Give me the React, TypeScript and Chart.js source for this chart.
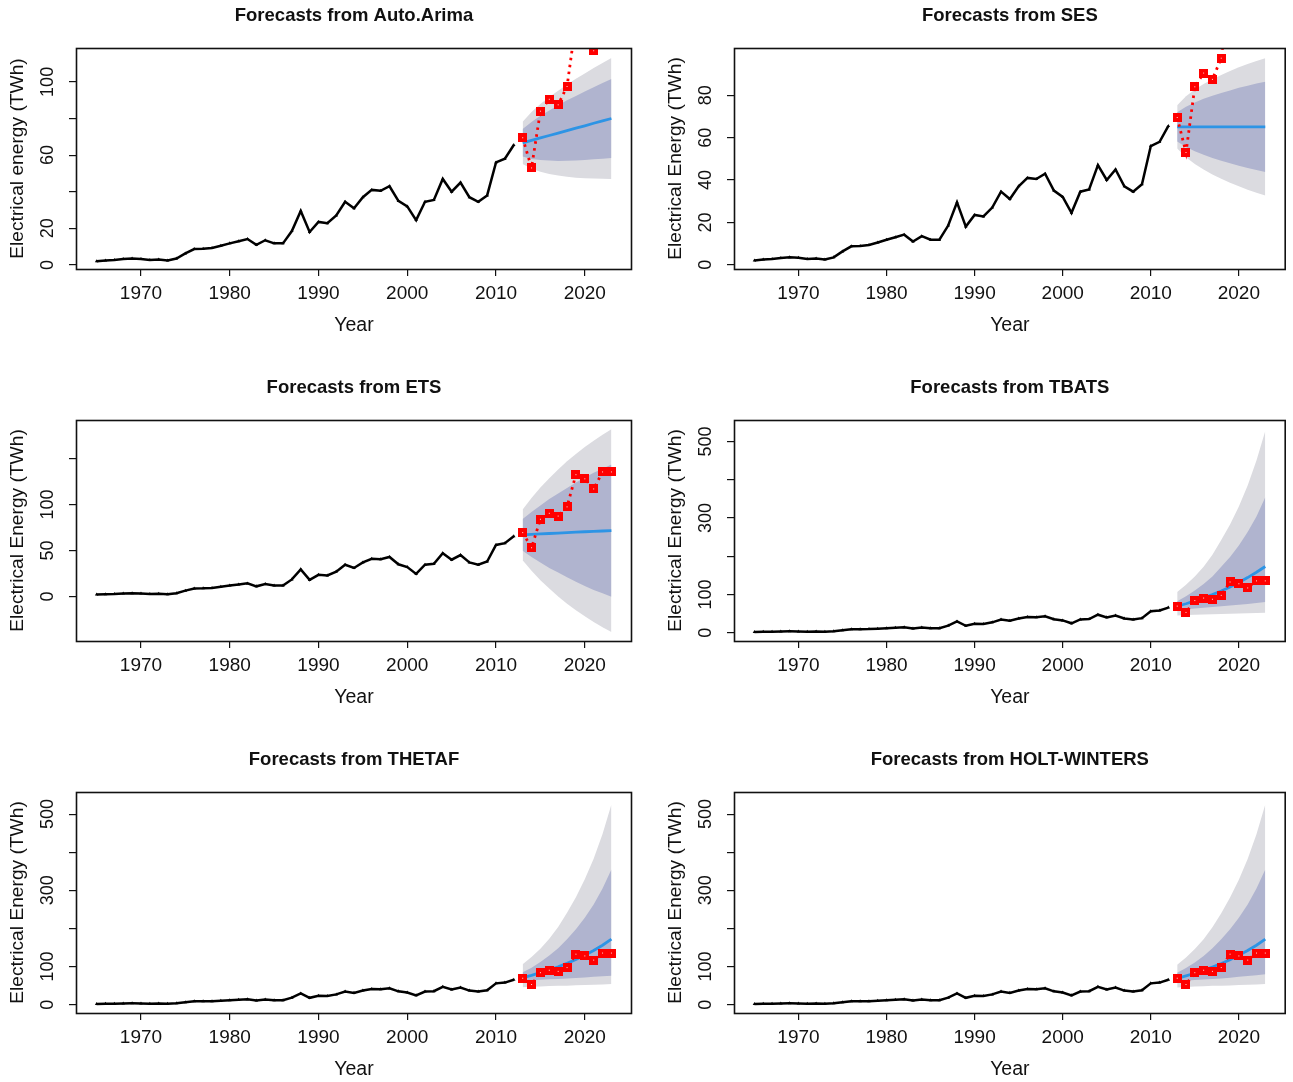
import React, { useEffect, useRef } from "react";
import { Chart, registerables } from "chart.js";

Chart.register(...registerables);

// ---------------- data ----------------
const histYears = [
  1965, 1966, 1967, 1968, 1969, 1970, 1971, 1972, 1973, 1974,
  1975, 1976, 1977, 1978, 1979, 1980, 1981, 1982, 1983, 1984,
  1985, 1986, 1987, 1988, 1989, 1990, 1991, 1992, 1993, 1994,
  1995, 1996, 1997, 1998, 1999, 2000, 2001, 2002, 2003, 2004,
  2005, 2006, 2007, 2008, 2009, 2010, 2011, 2012,
];
const histValues = [
  2, 2.5, 2.7, 3.2, 3.5, 3.3, 2.7, 3, 2.5, 3.5,
  6.3, 8.7, 8.8, 9.3, 10.5, 11.8, 13, 14.2, 11, 13.5,
  11.8, 11.8, 18.5, 29.5, 18, 23.5, 22.8, 27, 34.5, 31,
  37, 41, 40.5, 43, 35, 32, 24.5, 34.5, 35.5, 47,
  40, 45, 37, 34.5, 38, 56, 58, 65.5,
];
const fcYears = [2013, 2014, 2015, 2016, 2017, 2018, 2019, 2020, 2021, 2022, 2023];
const actualValues = [69.5, 53, 84, 90.5, 87.5, 97.5, 132.5, 128, 117, 135.5, 135.5];

const arimaMean = [66.7, 68.0, 69.4, 70.7, 72.0, 73.4, 74.7, 76.0, 77.4, 78.7, 80.0];
const arimaHi80 = [74.2, 78.1, 81.5, 84.4, 87.2, 89.9, 92.3, 94.7, 97.1, 99.4, 101.6];
const arimaLo80 = [59.2, 57.9, 57.3, 57.0, 56.8, 56.9, 57.1, 57.3, 57.7, 58.0, 58.4];
const arimaHi95 = [78.2, 83.5, 87.9, 91.7, 95.2, 98.6, 101.7, 104.6, 107.6, 110.3, 113.0];
const arimaLo95 = [55.2, 52.5, 50.9, 49.7, 48.8, 48.2, 47.7, 47.4, 47.2, 47.1, 47.0];

const sesMean = [65.1, 65.1, 65.1, 65.1, 65.1, 65.1, 65.1, 65.1, 65.1, 65.1, 65.1];
const sesHi80 = [72.0, 74.6, 76.6, 78.3, 79.8, 81.1, 82.3, 83.5, 84.5, 85.5, 86.4];
const sesLo80 = [58.2, 55.6, 53.6, 51.9, 50.4, 49.1, 47.9, 46.7, 45.7, 44.7, 43.8];
const sesHi95 = [75.3, 79.5, 82.7, 85.3, 87.6, 89.6, 91.5, 93.2, 94.8, 96.2, 97.5];
const sesLo95 = [54.9, 50.7, 47.5, 44.9, 42.6, 40.6, 38.7, 37.0, 35.4, 34.0, 32.7];

const etsMean = [67.0, 67.5, 68.0, 68.5, 69.0, 69.5, 70.0, 70.4, 70.8, 71.2, 71.6];
const etsHi80 = [84.4, 92, 99, 106, 112, 118, 124, 129.5, 134.5, 139, 143.5];
const etsLo80 = [49.6, 43, 37, 31, 26, 21, 16, 11.3, 7.1, 3.4, -0.3];
const etsHi95 = [94.6, 107, 118.5, 128.5, 138, 147, 155, 162.5, 169.5, 176, 182];
const etsLo95 = [39.4, 28, 17.5, 8.5, 0, -8, -15, -21.7, -27.9, -33.6, -38.8];

const tbatsMean = [69, 75.5, 83, 91, 99.5, 109, 119.5, 131, 144, 158, 173];
const tbatsHi80 = [82, 95, 110, 127, 147, 172, 198, 228, 263, 304, 354];
const tbatsLo80 = [60, 61.5, 63, 65, 67, 69, 71, 73, 75, 77.5, 80];
const tbatsHi95 = [106, 125, 147, 172, 204, 242, 283, 330, 385, 450, 527];
const tbatsLo95 = [45, 46, 47, 47.5, 48, 48.5, 49.5, 50, 50.5, 51.5, 52];

const thetaMean = [71, 77, 84, 91.5, 99.5, 108.5, 118.5, 129.5, 142, 156, 172];
const thetaHi80 = [85, 97, 112, 129, 148, 172, 198, 228, 263, 305, 355];
const thetaLo80 = [63, 64, 65.5, 66.5, 67.5, 69, 70, 71.5, 73, 74.5, 76];
const thetaHi95 = [106, 125, 147, 173, 204, 241, 282, 329, 383, 448, 525];
const thetaLo95 = [45.5, 47, 48, 49, 49.5, 50, 51, 51.5, 52.5, 53, 54];

const hwMean = [69, 75.5, 82.5, 90.5, 99, 108, 118, 129.5, 142, 156, 172];
const hwHi80 = [84, 96, 111, 128, 148, 172, 198, 228, 263, 305, 355];
const hwLo80 = [61, 63, 64.5, 66, 67.5, 69, 71, 73, 75, 77.5, 80];
const hwHi95 = [105, 124, 146, 172, 203, 240, 281, 328, 382, 447, 525];
const hwLo95 = [45, 46.5, 47.5, 48.5, 49.5, 50, 50.5, 51.5, 52, 53, 54];

const xTicks = [1970, 1980, 1990, 2000, 2010, 2020];
const arimaYTicks = [0, 20, 40, 60, 80, 100];
const arimaYLabels = [0, 20, 60, 100];
const sesYTicks = [0, 20, 40, 60, 80];
const sesYLabels = [0, 20, 40, 60, 80];
const etsYTicks = [0, 50, 100, 150];
const etsYLabels = [0, 50, 100];
const bigYTicks = [0, 100, 200, 300, 400, 500];
const bigYLabels = [0, 100, 300, 500];

// ---------------- styling / layout ----------------
const FONT = '"Liberation Sans", Arial, Helvetica, sans-serif';
const X_MIN = 1962.68;
const X_MAX = 2025.32;
const PLOT_TOP = 48;
const PLOT_BOTTOM = 269;
const PLOT_RIGHT = 632;

type PanelDef = {
  title: string;
  ylabel: string;
  yMin: number;
  yMax: number;
  yTicks: number[];
  yLabels: number[];
  mean: number[];
  hi80: number[];
  lo80: number[];
  hi95: number[];
  lo95: number[];
};

const panels: PanelDef[] = [
  { title: "Forecasts from Auto.Arima", ylabel: "Electrical energy (TWh)", yMin: -2.2, yMax: 118.5, yTicks: arimaYTicks, yLabels: arimaYLabels, mean: arimaMean, hi80: arimaHi80, lo80: arimaLo80, hi95: arimaHi95, lo95: arimaLo95 },
  { title: "Forecasts from SES", ylabel: "Electrical Energy (TWh)", yMin: -2.0, yMax: 102.3, yTicks: sesYTicks, yLabels: sesYLabels, mean: sesMean, hi80: sesHi80, lo80: sesLo80, hi95: sesHi95, lo95: sesLo95 },
  { title: "Forecasts from ETS", ylabel: "Electrical Energy (TWh)", yMin: -48.5, yMax: 192, yTicks: etsYTicks, yLabels: etsYLabels, mean: etsMean, hi80: etsHi80, lo80: etsLo80, hi95: etsHi95, lo95: etsLo95 },
  { title: "Forecasts from TBATS", ylabel: "Electrical Energy (TWh)", yMin: -21.8, yMax: 556, yTicks: bigYTicks, yLabels: bigYLabels, mean: tbatsMean, hi80: tbatsHi80, lo80: tbatsLo80, hi95: tbatsHi95, lo95: tbatsLo95 },
  { title: "Forecasts from THETAF", ylabel: "Electrical Energy (TWh)", yMin: -21.8, yMax: 558, yTicks: bigYTicks, yLabels: bigYLabels, mean: thetaMean, hi80: thetaHi80, lo80: thetaLo80, hi95: thetaHi95, lo95: thetaLo95 },
  { title: "Forecasts from HOLT-WINTERS", ylabel: "Electrical Energy (TWh)", yMin: -21.8, yMax: 558, yTicks: bigYTicks, yLabels: bigYLabels, mean: hwMean, hi80: hwHi80, lo80: hwLo80, hi95: hwHi95, lo95: hwLo95 },
];

const decorPlugin = {
  id: "rdecor",
  afterDraw(chart: any, _args: any, opts: any) {
    const { ctx, chartArea: a, scales } = chart;
    const xs = scales.x;
    const ys = scales.y;
    ctx.save();
    // box
    ctx.strokeStyle = "#111";
    ctx.lineWidth = 1.6;
    ctx.strokeRect(a.left + 0.5, a.top + 0.5, a.right - a.left - 1, a.bottom - a.top);
    ctx.fillStyle = "#111";
    ctx.textAlign = "center";
    ctx.textBaseline = "middle";
    // title
    ctx.font = `bold 18.5px ${FONT}`;
    ctx.fillText(opts.title, (a.left + a.right) / 2, a.top - 32);
    // x tick labels
    ctx.font = `19px ${FONT}`;
    for (const v of xTicks) {
      ctx.fillText(String(v), xs.getPixelForValue(v), a.bottom + 25);
    }
    // x title
    ctx.font = `19.5px ${FONT}`;
    ctx.fillText("Year", (a.left + a.right) / 2, a.bottom + 57);
    // y tick labels (rotated, R style)
    ctx.font = `18px ${FONT}`;
    for (const v of opts.yLabels) {
      ctx.save();
      ctx.translate(a.left - 28, ys.getPixelForValue(v));
      ctx.rotate(-Math.PI / 2);
      ctx.fillText(String(v), 0, 0);
      ctx.restore();
    }
    // y title
    ctx.font = `19.2px ${FONT}`;
    ctx.save();
    ctx.translate(18, (a.top + a.bottom) / 2);
    ctx.rotate(-Math.PI / 2);
    ctx.fillText(opts.ylabel, 0, 0);
    ctx.restore();
    ctx.restore();
  },
};

function makeMarker(): HTMLCanvasElement {
  const c = document.createElement("canvas");
  c.width = 9;
  c.height = 9;
  const g = c.getContext("2d")!;
  g.fillStyle = "#FF0000";
  g.fillRect(0, 0, 9, 9);
  g.fillStyle = "rgba(255,255,255,0.85)";
  g.fillRect(4, 4, 1, 1);
  return c;
}

function pts(xv: number[], yv: number[]) {
  return xv.map((x, i) => ({ x, y: yv[i] }));
}

function buildConfig(p: PanelDef, W: number, H: number): any {
  const marker = makeMarker();
  const noLine = "rgba(0,0,0,0)";
  return {
    type: "line",
    data: {
      datasets: [
        {
          data: pts(fcYears, actualValues),
          borderColor: "#FF0000",
          borderWidth: 2.8,
          borderDash: [2.5, 4.5],
          pointStyle: marker,
          pointRadius: 4.5,
          fill: false,
          clip: 0,
        },
        {
          data: pts(fcYears, p.mean),
          borderColor: "#2D94E5",
          borderWidth: 2.8,
          pointRadius: 0,
          fill: false,
          clip: 0,
        },
        {
          data: pts(histYears, histValues),
          borderColor: "#000000",
          borderWidth: 2.5,
          pointRadius: 2,
          pointStyle: "triangle",
          pointBackgroundColor: "#000000",
          pointBorderWidth: 0,
          fill: false,
          clip: 0,
        },
        {
          data: pts(fcYears, p.hi80),
          borderColor: noLine,
          borderWidth: 0,
          pointRadius: 0,
          backgroundColor: "#B0B4CF",
          fill: "+1",
          clip: 0,
        },
        {
          data: pts(fcYears, p.lo80),
          borderColor: noLine,
          borderWidth: 0,
          pointRadius: 0,
          fill: false,
          clip: 0,
        },
        {
          data: pts(fcYears, p.hi95),
          borderColor: noLine,
          borderWidth: 0,
          pointRadius: 0,
          backgroundColor: "#DBDBE0",
          fill: "+1",
          clip: 0,
        },
        {
          data: pts(fcYears, p.lo95),
          borderColor: noLine,
          borderWidth: 0,
          pointRadius: 0,
          fill: false,
          clip: 0,
        },
      ],
    },
    options: {
      responsive: false,
      animation: false,
      events: [],
      devicePixelRatio: 1,
      layout: { padding: { left: 0, top: PLOT_TOP, right: W - PLOT_RIGHT, bottom: 0 } },
      elements: { line: { tension: 0 } },
      plugins: {
        legend: { display: false },
        tooltip: { enabled: false },
        title: { display: false },
        rdecor: { title: p.title, ylabel: p.ylabel, yLabels: p.yLabels },
      },
      scales: {
        x: {
          type: "linear",
          position: "bottom",
          min: X_MIN,
          max: X_MAX,
          afterBuildTicks: (s: any) => {
            s.ticks = xTicks.map((v) => ({ value: v }));
          },
          afterFit: (s: any) => {
            s.height = H - PLOT_BOTTOM;
          },
          ticks: { display: false },
          border: { display: false },
          grid: { drawOnChartArea: false, drawTicks: true, tickLength: 7, color: "#111", lineWidth: 1.2 },
        },
        y: {
          type: "linear",
          position: "left",
          min: p.yMin,
          max: p.yMax,
          afterBuildTicks: (s: any) => {
            s.ticks = p.yTicks.map((v) => ({ value: v }));
          },
          afterFit: (s: any) => {
            s.width = 76;
          },
          ticks: { display: false },
          border: { display: false },
          grid: { drawOnChartArea: false, drawTicks: true, tickLength: 7, color: "#111", lineWidth: 1.2 },
        },
      },
    },
    plugins: [decorPlugin],
  };
}

function Panel(props: { def: PanelDef; left: number; top: number; width: number; height: number }) {
  const ref = useRef<HTMLCanvasElement | null>(null);
  const { def, left, top, width, height } = props;
  useEffect(() => {
    if (!ref.current) return;
    const chart = new Chart(ref.current, buildConfig(def, width, height));
    return () => chart.destroy();
  }, [def, width, height]);
  return (
    <canvas
      ref={ref}
      width={width}
      height={height}
      style={{ position: "absolute", left, top, width, height, display: "block" }}
    />
  );
}

export default function App() {
  const colLeft = [0, 658];
  const colWidth = [658, 635];
  const rowTop = [0, 372, 744];
  return (
    <div
      style={{
        position: "absolute",
        left: 0,
        top: 0,
        width: 1293,
        height: 1082,
        overflow: "hidden",
        background: "#ffffff",
      }}
    >
      {panels.map((p, i) => {
        const c = i % 2;
        const r = Math.floor(i / 2);
        return (
          <Panel key={i} def={p} left={colLeft[c]} top={rowTop[r]} width={colWidth[c]} height={372} />
        );
      })}
    </div>
  );
}
